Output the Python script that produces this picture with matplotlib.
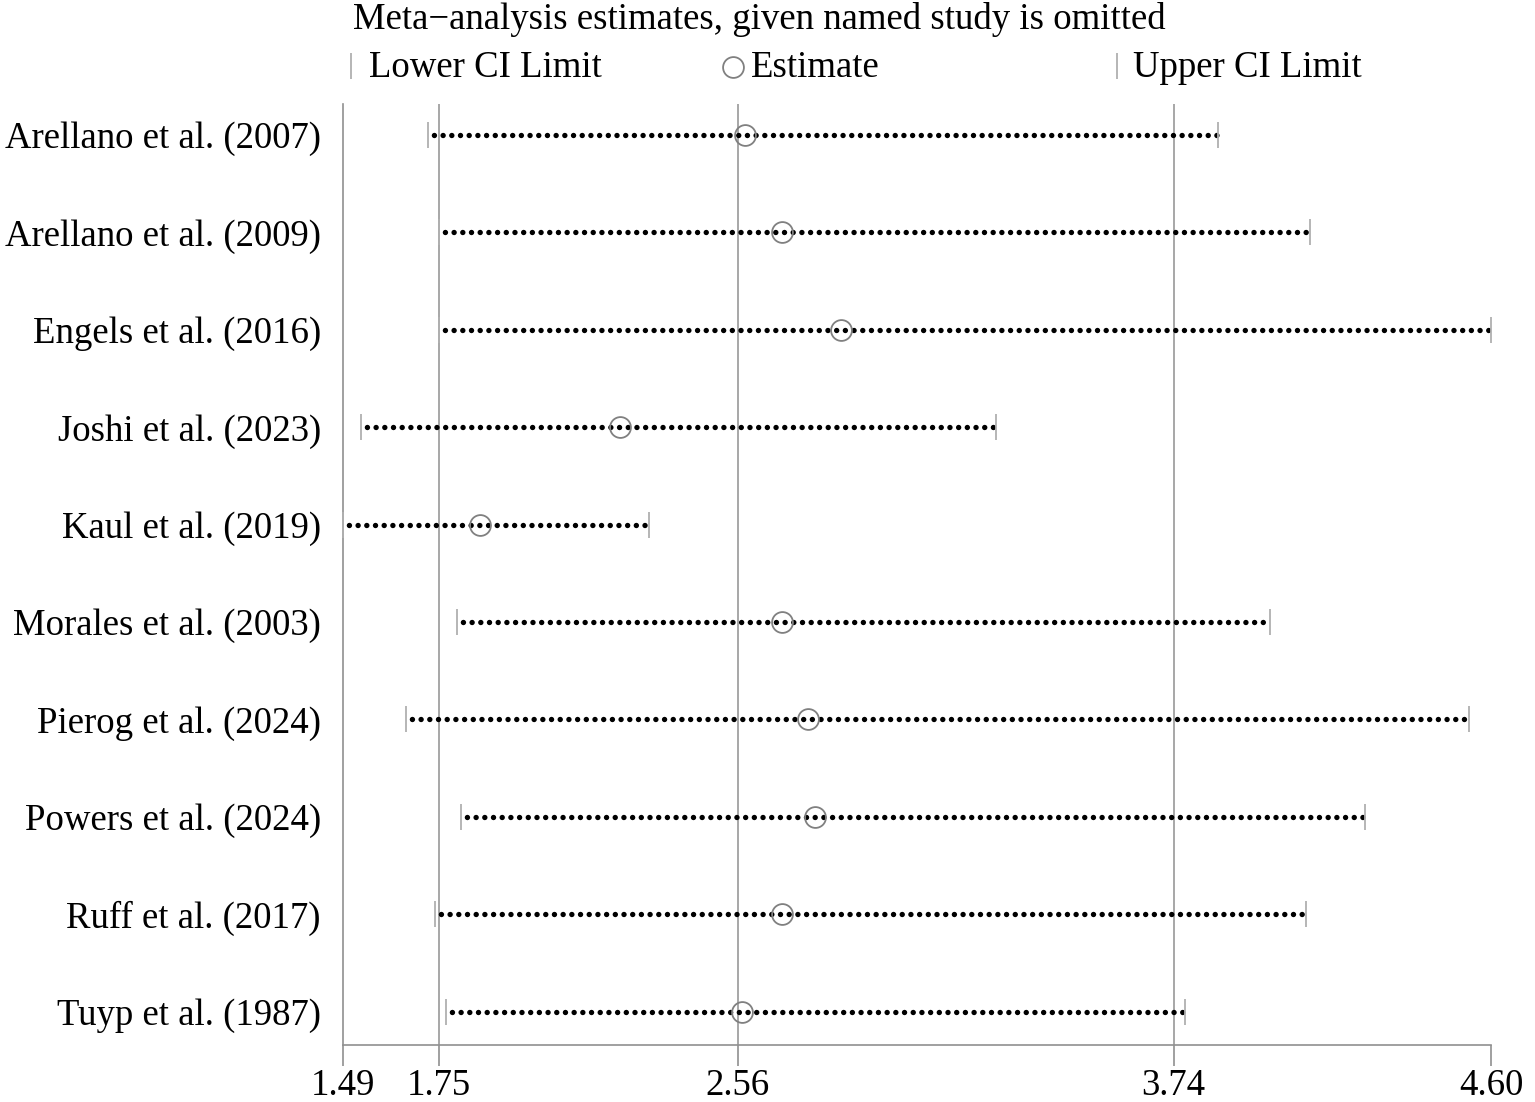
import matplotlib
matplotlib.use("Agg")
import matplotlib.pyplot as plt

plt.rcParams['font.family'] = ['Liberation Serif', 'DejaVu Serif']
plt.rcParams['lines.scale_dashes'] = False

studies = ["Arellano et al. (2007)", "Arellano et al. (2009)", "Engels et al. (2016)",
           "Joshi et al. (2023)", "Kaul et al. (2019)", "Morales et al. (2003)",
           "Pierog et al. (2024)", "Powers et al. (2024)", "Ruff et al. (2017)",
           "Tuyp et al. (1987)"]
lower = [1.72, 1.75, 1.75, 1.54, 1.49, 1.80, 1.66, 1.81, 1.74, 1.77]
estimate = [2.58, 2.68, 2.84, 2.24, 1.86, 2.68, 2.75, 2.77, 2.68, 2.57]
upper = [3.86, 4.11, 4.60, 3.26, 2.32, 4.00, 4.54, 4.26, 4.10, 3.77]
ref_lines = [1.75, 2.56, 3.74]
xticks = [1.49, 1.75, 2.56, 3.74, 4.60]
xtick_labels = ["1.49", "1.75", "2.56", "3.74", "4.60"]

W, H = 1535, 1102
fig = plt.figure(figsize=(W/100, H/100), dpi=100)
ax = fig.add_axes([343/W, (H-1045)/H, (1491-343)/W, (1045-104)/H])

FS = 26.5
for v in ref_lines:
    ax.axvline(v, color='#a0a0a0', lw=1.3, zorder=1)

ys = list(range(len(studies)))
for i, (lo, est, hi) in enumerate(zip(lower, estimate, upper)):
    ax.plot([lo, hi], [i, i], color='black', lw=3.9,
            linestyle=(2.0, (0.01, 6.25)), dash_capstyle='round', zorder=2)
ax.plot(lower, ys, linestyle='none', marker='|', markersize=19, markeredgewidth=1.3,
        color='#b0b0b0', zorder=3, clip_on=False)
ax.plot(upper, ys, linestyle='none', marker='|', markersize=19, markeredgewidth=1.3,
        color='#b0b0b0', zorder=3, clip_on=False)
ax.plot(estimate, ys, linestyle='none', marker='o', markersize=15, markerfacecolor='none',
        markeredgecolor='#808080', markeredgewidth=1.3, zorder=4, clip_on=False)

ax.set_xlim(1.49, 4.60)
ax.set_ylim(9.343, -0.318)
ax.set_yticks(ys)
ax.set_yticklabels(studies, fontsize=FS)
ax.tick_params(axis='y', length=0, pad=16)
ax.set_xticks(xticks)
ax.set_xticklabels(xtick_labels, fontsize=FS)
ax.tick_params(axis='x', length=15, width=1.2, color='#909090', pad=2)
for s in ['top', 'right']:
    ax.spines[s].set_visible(False)
for s in ['left', 'bottom']:
    ax.spines[s].set_color('#909090')
    ax.spines[s].set_linewidth(1.2)

# legend / title overlay in pixel coordinates
ov = fig.add_axes([0, 0, 1, 1], zorder=5)
ov.set_xlim(0, W)
ov.set_ylim(H, 0)
ov.axis('off')
ov.text(353, 29, "Meta\u2212analysis estimates, given named study is omitted",
        fontsize=FS, ha='left', va='baseline')
ov.plot([351], [66], marker='|', markersize=19, markeredgewidth=1.3, color='#b0b0b0')
ov.text(369, 77, "Lower CI Limit", fontsize=FS, ha='left', va='baseline')
ov.plot([733], [67], marker='o', markersize=15, markerfacecolor='none',
        markeredgecolor='#808080', markeredgewidth=1.3)
ov.text(751, 77, "Estimate", fontsize=FS, ha='left', va='baseline')
ov.plot([1117], [66], marker='|', markersize=19, markeredgewidth=1.3, color='#b0b0b0')
ov.text(1133, 77, "Upper CI Limit", fontsize=FS, ha='left', va='baseline')

fig.savefig("out.png", dpi=100)
